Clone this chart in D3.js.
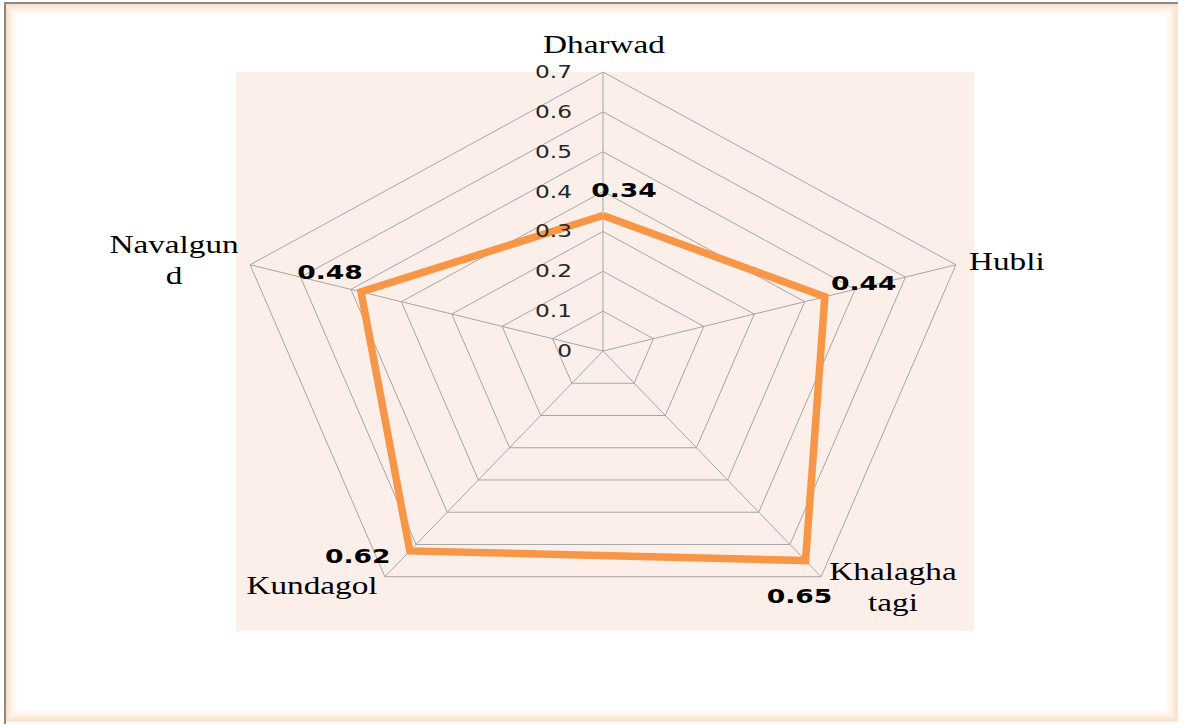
<!DOCTYPE html>
<html>
<head>
<meta charset="utf-8">
<script src="https://cdn.jsdelivr.net/npm/d3@7"></script>
<style>
  body { margin: 0; background: #ffffff; }
</style>
</head>
<body>
<script>
var categories = ["Dharwad", "Hubli", "Khalaghatagi", "Kundagol", "Navalgund"];
var values = [0.34, 0.44, 0.65, 0.62, 0.48];
var tickValues = [0, 0.1, 0.2, 0.3, 0.4, 0.5, 0.6, 0.7];

var w = 1183, h = 727;
var cx = 603, cy = 351;
var stretch = 1.33; // the whole chart is drawn wider than tall

var svg = d3.select("body").append("svg")
    .attr("width", w)
    .attr("height", h);

// frame with soft orange inner glow
var frame = svg.append("g");
for (var i = 0; i < 14; i++) {
    frame.append("rect")
        .attr("x", 6 + i).attr("y", 4 + i)
        .attr("width", 1171 - 2 * i).attr("height", 717 - 2 * i)
        .attr("fill", "none")
        .attr("stroke", "#fbc08f")
        .attr("stroke-opacity", 0.6 * Math.pow(1 - i / 14, 2));
}
frame.append("path")
    .attr("d", "M5,724 L5,3 L1178,3")
    .attr("fill", "none")
    .attr("stroke", "#8a8a8a")
    .attr("stroke-width", 2);

// plot area
svg.append("rect")
    .attr("x", 236).attr("y", 72)
    .attr("width", 738).attr("height", 559)
    .attr("fill", "#fcefe9");

var r = d3.scaleLinear().domain([0, 0.7]).range([0, 279]);
var angle = d3.scalePoint().domain(categories).range([0, 2 * Math.PI * 4 / 5]);

function pt(cat, v) {
    var a = angle(cat);
    return [cx + r(v) * Math.sin(a) * stretch, cy - r(v) * Math.cos(a)];
}

function stretched(x, y) {
    return "translate(" + x + "," + y + ") scale(" + stretch + ",1)";
}

// grid rings
var grid = svg.append("g");
grid.selectAll("path.ring")
    .data(tickValues.slice(1))
    .enter().append("path")
    .attr("class", "ring")
    .attr("d", function(t) {
        return d3.line()(categories.map(function(c) { return pt(c, t); }).concat([pt(categories[0], t)]));
    })
    .attr("fill", "none")
    .attr("stroke", "#a6a6a6")
    .attr("stroke-width", 1);

// spokes
grid.selectAll("line.spoke")
    .data(categories)
    .enter().append("line")
    .attr("class", "spoke")
    .attr("x1", cx).attr("y1", cy)
    .attr("x2", function(c) { return pt(c, 0.7)[0]; })
    .attr("y2", function(c) { return pt(c, 0.7)[1]; })
    .attr("stroke", "#a6a6a6")
    .attr("stroke-width", 1);

// data line
var data = categories.map(function(c, i) { return { cat: c, v: values[i] }; });
svg.append("path")
    .datum(data.concat([data[0]]))
    .attr("d", d3.line()
        .x(function(d) { return pt(d.cat, d.v)[0]; })
        .y(function(d) { return pt(d.cat, d.v)[1]; }))
    .attr("fill", "none")
    .attr("stroke", "#f79646")
    .attr("stroke-width", 7.5)
    .attr("stroke-linejoin", "miter");

// tick labels (on top of the line)
svg.selectAll("text.tick")
    .data(tickValues)
    .enter().append("text")
    .attr("class", "tick")
    .attr("transform", function(t) { return stretched(572, cy - r(t) + 6); })
    .attr("text-anchor", "end")
    .attr("font-family", "DejaVu Sans")
    .attr("font-size", 17.5)
    .attr("fill", "#262626")
    .text(function(t) { return t; });

// data labels
var labelOffset = [[21, -25], [39, -14], [-6, 35], [-52, 5], [-31, -20]];
svg.selectAll("text.val")
    .data(data)
    .enter().append("text")
    .attr("class", "val")
    .attr("transform", function(d, i) {
        var p = pt(d.cat, d.v);
        return stretched(p[0] + labelOffset[i][0], p[1] + labelOffset[i][1] + 7);
    })
    .attr("text-anchor", "middle")
    .attr("font-family", "DejaVu Sans")
    .attr("font-weight", "bold")
    .attr("font-size", 20)
    .attr("fill", "#000")
    .text(function(d) { return d.v; });

// category labels (long names wrap as in the original)
var catLabels = [
    { lines: ["Dharwad"], x: 604, y: 53, anchor: "middle" },
    { lines: ["Hubli"], x: 969, y: 270, anchor: "start" },
    { lines: ["Khalagha", "tagi"], x: 893, y: 580, anchor: "middle" },
    { lines: ["Kundagol"], x: 312, y: 594, anchor: "middle" },
    { lines: ["Navalgun", "d"], x: 174, y: 253, anchor: "middle" }
];
catLabels.forEach(function(l) {
    var t = svg.append("text")
        .attr("transform", stretched(l.x, l.y))
        .attr("text-anchor", l.anchor)
        .attr("font-family", "Liberation Serif")
        .attr("font-size", 25)
        .attr("fill", "#000");
    l.lines.forEach(function(s, j) {
        t.append("tspan").attr("x", 0).attr("dy", j === 0 ? 0 : 31).text(s);
    });
});
</script>
</body>
</html>
